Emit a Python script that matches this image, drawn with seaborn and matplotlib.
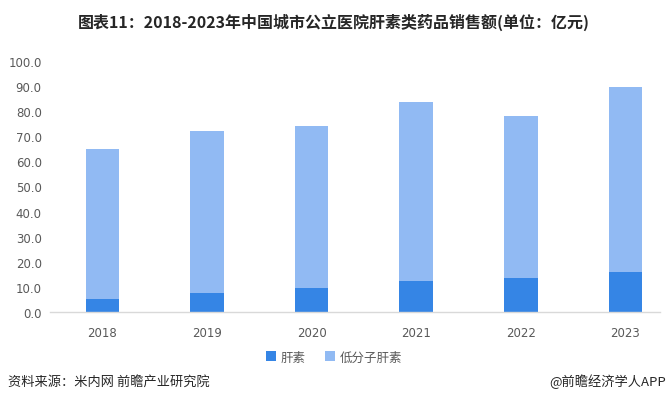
import matplotlib
matplotlib.use("Agg")
import matplotlib.pyplot as plt
import seaborn as sns
import pandas as pd
from matplotlib.patches import Patch

years = ["2018", "2019", "2020", "2021", "2022", "2023"]
heparin = [5.3, 7.4, 9.7, 12.5, 13.7, 16.0]
lmw_heparin = [59.5, 64.9, 64.3, 71.3, 64.5, 73.8]
yticks = [0, 10, 20, 30, 40, 50, 60, 70, 80, 90, 100]

sns.set_theme(style="white")
plt.rcParams['font.family'] = ['Noto Sans CJK SC', 'DejaVu Sans']

df = pd.DataFrame({"year": years, "heparin": heparin, "lmw": lmw_heparin})
df["total"] = df["heparin"] + df["lmw"]

dark = "#3585E5"
light = "#91BAF3"

fig = plt.figure(figsize=(6.68, 4.10), dpi=100)
ax = fig.add_axes([50/668, (410-313)/410, (660-50)/668, (313-62)/410])

sns.barplot(data=df, x="year", y="total", color=light, width=0.32,
            saturation=1, linewidth=0, ax=ax)
sns.barplot(data=df, x="year", y="heparin", color=dark, width=0.32,
            saturation=1, linewidth=0, ax=ax)

ax.set_xlim(-0.5, 5.33)
ax.set_ylim(0, 100)
ax.set_yticks(yticks)
ax.set_yticklabels([f"{v:.1f}" for v in yticks])
ax.set_xlabel("")
ax.set_ylabel("")
for s in ["top", "right", "left"]:
    ax.spines[s].set_visible(False)
ax.spines["bottom"].set_color("#D9D9D9")
ax.spines["bottom"].set_linewidth(1.0)
ax.tick_params(axis="both", length=0, labelsize=9, colors="#595959")
ax.tick_params(axis="x", pad=10)
ax.tick_params(axis="y", pad=6)
for lab in ax.get_yticklabels() + ax.get_xticklabels():
    lab.set_family(['DejaVu Sans'])
    lab.set_fontsize(8.5)

fig.text(0.5, 1 - 22/410, "图表11：2018-2023年中国城市公立医院肝素类药品销售额(单位：亿元)",
         ha="center", va="center", fontsize=11.5, fontweight="bold", color="#262626")

handles = [Patch(facecolor=dark, edgecolor="none"), Patch(facecolor=light, edgecolor="none")]
fig.legend(handles, ["肝素", "低分子肝素"], loc="center", bbox_to_anchor=(0.5, 1 - 358/410),
           ncol=2, frameon=False, fontsize=9, handlelength=0.8, handleheight=0.8,
           handletextpad=0.4, columnspacing=1.5, labelcolor="#595959")

fig.text(8/668, 1 - 382/410, "资料来源：米内网 前瞻产业研究院", ha="left", va="center",
         fontsize=9.5, color="#262626")
fig.text(666/668, 1 - 382/410, "@前瞻经济学人APP", ha="right", va="center",
         fontsize=9.5, color="#262626")

fig.savefig("out.png", dpi=100)
